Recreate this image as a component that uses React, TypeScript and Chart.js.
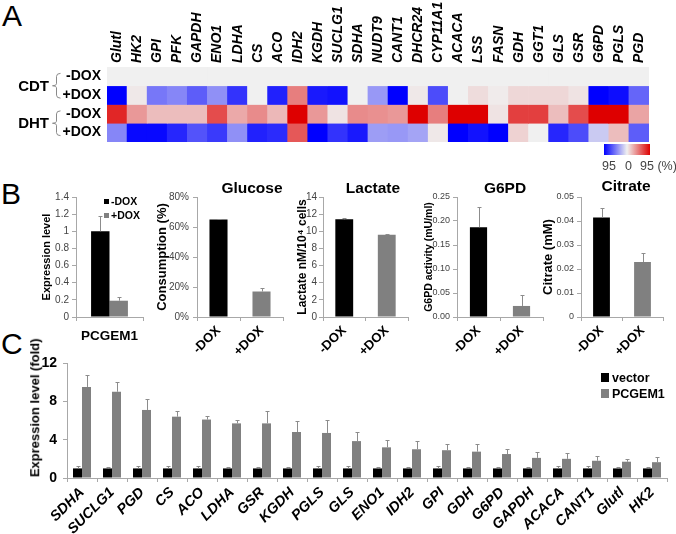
import React, { useEffect, useRef } from 'react';
import { Chart, registerables } from 'chart.js';

Chart.register(...registerables);

const FONT = '"Liberation Sans", Arial, Helvetica, sans-serif';
Chart.defaults.font.family = FONT;

// ---------------- Panel A data ----------------
const heatGenes = ['Glutl', 'HK2', 'GPI', 'PFK', 'GAPDH', 'ENO1', 'LDHA', 'CS', 'ACO', 'IDH2', 'KGDH', 'SUCLG1', 'SDHA', 'NUDT9', 'CANT1', 'DHCR24', 'CYP11A1', 'ACACA', 'LSS', 'FASN', 'GDH', 'GGT1', 'GLS', 'GSR', 'G6PD', 'PGLS', 'PGD'];
const heatRowLabels = ['-DOX', '+DOX', '-DOX', '+DOX'];
const heatGroups = ['CDT', 'DHT'];
const heatCdtMinusDox = [0, 0, 0, 0, 0, 0, 0, 0, 0, 0, 0, 0, 0, 0, 0, 0, 0, 0, 0, 0, 0, 0, 0, 0, 0, 0, 0];
const heatCdtPlusDox = [-95, 3, -48, -42, -58, -38, -75, 0, -82, 45, -85, -88, 0, -35, -95, 3, -65, 0, 8, 2, 10, 10, 10, 5, -95, -90, -55];
const heatDhtMinusDox = [80, 35, 20, 20, 20, 65, 28, 40, 22, 95, 35, 5, 40, 38, 35, 95, 45, 95, 95, 5, 70, 70, 20, 65, 95, 95, 30];
const heatDhtPlusDox = [-42, -92, -92, -80, -62, -72, -38, -82, -78, 60, -95, -75, -85, -33, -35, -30, 3, -95, -88, -95, 12, 0, -80, -65, -15, 20, -58];
const heatScaleLabels = ['95', '0', '95 (%)'];

// ---------------- Panel B data ----------------
const pcgemCategory = ['PCGEM1'];
const pcgemMinusDox = [1.0];
const pcgemMinusDoxErr = [0.18];
const pcgemPlusDox = [0.19];
const pcgemPlusDoxErr = [0.04];
const doxCategories = ['-DOX', '+DOX'];
const glucoseValues = [65, 17];
const glucoseErrors = [0.6, 2.3];
const lactateValues = [11.4, 9.6];
const lactateErrors = [0.12, 0.1];
const g6pdValues = [0.187, 0.023];
const g6pdErrors = [0.042, 0.022];
const citrateValues = [0.0415, 0.0229];
const citrateErrors = [0.0038, 0.0038];

// ---------------- Panel C data ----------------
const cGenes = ['SDHA', 'SUCLG1', 'PGD', 'CS', 'ACO', 'LDHA', 'GSR', 'KGDH', 'PGLS', 'GLS', 'ENO1', 'IDH2', 'GPI', 'GDH', 'G6PD', 'GAPDH', 'ACACA', 'CANT1', 'Glutl', 'HK2'];
const cVector = [1, 1, 1, 1, 1, 1, 1, 1, 1, 1, 1, 1, 1, 1, 1, 1, 1, 1, 1, 1];
const cVectorErr = [0.28, 0.18, 0.28, 0.25, 0.28, 0.18, 0.18, 0.18, 0.28, 0.28, 0.18, 0.18, 0.25, 0.18, 0.18, 0.18, 0.28, 0.28, 0.18, 0.12];
const cPcgem1 = [9.5, 9.0, 7.1, 6.4, 6.1, 5.7, 5.7, 4.8, 4.7, 3.85, 3.2, 3.0, 2.9, 2.75, 2.5, 2.1, 2.0, 1.8, 1.7, 1.65];
const cPcgem1Err = [1.25, 1.05, 1.15, 0.55, 0.4, 0.4, 1.25, 1.15, 1.4, 0.9, 0.8, 0.9, 0.6, 0.85, 0.5, 0.65, 0.6, 0.5, 0.3, 0.5];
const cSeries = ['vector', 'PCGEM1'];
const cYTitle = 'Expression level (fold)';

const AXIS = '#a8a8a8';
const BLACK = '#000000';
const GRAY = '#808080';
const ERR = '#8c8c8c';

function heatColor(v: number) {
  const z = [240, 240, 240];
  const t = Math.min(Math.abs(v) / 95, 1);
  const end = v < 0 ? [0, 0, 255] : [222, 0, 0];
  const c = z.map((zc, i) => Math.round(zc + (end[i] - zc) * t));
  return `rgb(${c.join(',')})`;
}

const errorBarPlugin = {
  id: 'errorBars',
  afterDatasetsDraw(chart: any) {
    const ctx = chart.ctx;
    chart.data.datasets.forEach((ds: any, i: number) => {
      if (!ds.errors) return;
      const meta = chart.getDatasetMeta(i);
      const yScale = chart.scales[meta.yAxisID];
      meta.data.forEach((bar: any, j: number) => {
        const e = ds.errors[j];
        if (e == null) return;
        const v = ds.data[j];
        const x = Math.round(bar.x) + 0.5;
        const y0 = yScale.getPixelForValue(v);
        const y1 = Math.round(yScale.getPixelForValue(v + e)) + 0.5;
        ctx.save();
        ctx.strokeStyle = ERR;
        ctx.lineWidth = 1;
        ctx.beginPath();
        ctx.moveTo(x, y0);
        ctx.lineTo(x, y1);
        ctx.moveTo(x - 2, y1);
        ctx.lineTo(x + 2, y1);
        ctx.stroke();
        ctx.restore();
      });
    });
  },
};

const bracePlugin = {
  id: 'groupBraces',
  afterDraw(chart: any) {
    const ctx = chart.ctx;
    const y = chart.scales.y;
    heatGroups.forEach((g, gi) => {
      const y0 = y.getPixelForValue(gi * 2 + 0.5) - 3;
      const y1 = y.getPixelForValue(gi * 2 + 1.5) + 3;
      const mid = (y0 + y1) / 2;
      const xr = 60.5, xm = 56.5, xt = 52.5;
      ctx.save();
      ctx.strokeStyle = '#8a8a8a';
      ctx.lineWidth = 1;
      ctx.beginPath();
      ctx.moveTo(xr, y0);
      ctx.quadraticCurveTo(xm, y0, xm, y0 + 3);
      ctx.lineTo(xm, mid - 2);
      ctx.quadraticCurveTo(xm, mid, xt, mid);
      ctx.quadraticCurveTo(xm, mid, xm, mid + 2);
      ctx.lineTo(xm, y1 - 3);
      ctx.quadraticCurveTo(xm, y1, xr, y1);
      ctx.stroke();
      ctx.fillStyle = '#000';
      ctx.font = `bold 15px ${FONT}`;
      ctx.textAlign = 'right';
      ctx.textBaseline = 'middle';
      ctx.fillText(g, 49, mid + 1);
      ctx.restore();
    });
  },
};

function ChartBox({ left, top, width, height, config }: any) {
  const ref = useRef<HTMLCanvasElement>(null);
  useEffect(() => {
    const chart = new Chart(ref.current as HTMLCanvasElement, config);
    return () => chart.destroy();
  }, []);
  return (
    <div style={{ position: 'absolute', left, top, width, height }}>
      <canvas ref={ref} width={width} height={height} style={{ width, height, display: 'block' }} />
    </div>
  );
}

function Txt({ x, y, size, bold, italic, color, align, rotate, children }: any) {
  const a = align || 'left';
  const style: any = {
    position: 'absolute',
    top: y - size * 0.6,
    fontSize: size,
    lineHeight: `${size * 1.2}px`,
    fontWeight: bold ? 'bold' : 'normal',
    fontStyle: italic ? 'italic' : 'normal',
    color: color || '#000',
    whiteSpace: 'nowrap',
    fontFamily: FONT,
  };
  if (a === 'center') {
    style.left = x - 150;
    style.width = 300;
    style.textAlign = 'center';
  } else {
    style.left = x;
  }
  if (rotate) {
    style.transform = `rotate(${rotate}deg)`;
    style.transformOrigin = '50% 50%';
  }
  return <div style={style}>{children}</div>;
}

function barConfig(p: any) {
  return {
    type: 'bar',
    data: { labels: p.labels, datasets: p.datasets },
    plugins: [errorBarPlugin],
    options: {
      responsive: false,
      maintainAspectRatio: false,
      animation: false,
      layout: { padding: p.pad, autoPadding: false },
      plugins: { legend: { display: false }, tooltip: { enabled: false } },
      scales: {
        x: {
          offset: true,
          grid: { display: true, drawOnChartArea: false, drawTicks: true, tickLength: 4, color: AXIS, offset: true },
          border: { display: true, color: AXIS, width: 1 },
          ticks: {
            autoSkip: false,
            minRotation: p.rot,
            maxRotation: p.rot,
            padding: p.xPad,
            font: p.xFont,
            color: '#000',
            labelOffset: p.xLabelOffset || 0,
          },
          afterFit: (s: any) => { s.height = p.xh; s.paddingLeft = 0; s.paddingRight = 0; },
        },
        y: {
          min: p.yMin,
          max: p.yMax,
          grid: { drawOnChartArea: false, drawTicks: true, tickLength: 4, color: AXIS },
          border: { display: true, color: AXIS, width: 1 },
          ticks: { autoSkip: false, stepSize: p.yStep, callback: p.fmt, font: p.yFont, color: p.tickColor, padding: p.yPad },
          title: { display: !!p.yTitle, text: p.yTitle || '', font: p.titleFont, color: '#000', padding: { top: p.titlePad || 0, bottom: 0 } },
          afterFit: (s: any) => { s.width = p.yw; s.paddingTop = 0; s.paddingBottom = 0; },
        },
      },
    },
  };
}

const num = (v: any) => String(+Number(v).toFixed(3));

const heatMatrix = [heatCdtMinusDox, heatCdtPlusDox, heatDhtMinusDox, heatDhtPlusDox];

const heatConfig = {
  type: 'bar',
  data: {
    labels: heatGenes,
    datasets: heatMatrix.map((row, r) => ({
      label: heatRowLabels[r],
      data: row.map(() => [r, r + 1]),
      backgroundColor: row.map(heatColor),
      borderWidth: 0,
      grouped: false,
      barPercentage: 1,
      categoryPercentage: 1,
    })),
  },
  plugins: [bracePlugin],
  options: {
    responsive: false,
    maintainAspectRatio: false,
    animation: false,
    layout: { padding: { left: 0, top: 0, right: 27, bottom: 3 }, autoPadding: false },
    plugins: { legend: { display: false }, tooltip: { enabled: false } },
    scales: {
      x: {
        position: 'top',
        grid: { display: false, drawTicks: false },
        border: { display: false },
        ticks: { autoSkip: false, minRotation: 90, maxRotation: 90, padding: 4, labelOffset: 17, color: '#000', font: { size: 14, weight: 'bold', style: 'italic' } },
        afterFit: (s: any) => { s.height = 67; s.paddingLeft = 0; s.paddingRight = 0; },
      },
      y: {
        min: 0,
        max: 4,
        reverse: true,
        grid: { display: false, drawTicks: false },
        border: { display: false },
        afterBuildTicks: (s: any) => { s.ticks = heatRowLabels.map((_, i) => ({ value: i + 0.5 })); },
        ticks: { autoSkip: false, padding: 6, color: '#000', font: { size: 14, weight: 'bold' }, callback: (_v: any, i: number) => heatRowLabels[i] },
        afterFit: (s: any) => { s.width = 107; s.paddingTop = 0; s.paddingBottom = 0; },
      },
    },
  },
};

const xDoxFont = { size: 13, weight: 'bold' };

const b1Config = barConfig({
  labels: pcgemCategory,
  datasets: [
    { label: '-DOX', data: pcgemMinusDox, errors: pcgemMinusDoxErr, backgroundColor: BLACK, categoryPercentage: 0.55, barPercentage: 1 },
    { label: '+DOX', data: pcgemPlusDox, errors: pcgemPlusDoxErr, backgroundColor: GRAY, categoryPercentage: 0.55, barPercentage: 1 },
  ],
  pad: { left: 0, top: 12, right: 3, bottom: 0 }, yw: 46, xh: 30, rot: 0, xPad: 7,
  xFont: { size: 13.5, weight: 'bold' },
  yMin: 0, yMax: 1.4, yStep: 0.2, fmt: num, yFont: { size: 10 }, tickColor: '#444', yPad: 3,
  yTitle: 'Expression level', titleFont: { size: 11, weight: 'bold' }, titlePad: 10.4,
});

const glucoseConfig = barConfig({
  labels: doxCategories,
  datasets: [{ label: 'Glucose', data: glucoseValues, errors: glucoseErrors, backgroundColor: [BLACK, GRAY], categoryPercentage: 0.42, barPercentage: 1 }],
  pad: { left: 0, top: 12, right: 3, bottom: 0 }, yw: 47, xh: 43, rot: 45, xPad: 2, xFont: xDoxFont,
  yMin: 0, yMax: 80, yStep: 20, fmt: (v: any) => `${num(v)}%`, yFont: { size: 10 }, tickColor: '#444', yPad: 4,
  yTitle: 'Consumption (%)', titleFont: { size: 13, weight: 'bold' }, titlePad: 4.2,
});

const lactateConfig = barConfig({
  labels: doxCategories,
  datasets: [{ label: 'Lactate', data: lactateValues, errors: lactateErrors, backgroundColor: [BLACK, GRAY], categoryPercentage: 0.42, barPercentage: 1 }],
  pad: { left: 0, top: 12, right: 3, bottom: 0 }, yw: 33, xh: 43, rot: 45, xPad: 2, xFont: xDoxFont,
  yMin: 0, yMax: 14, yStep: 2, fmt: num, yFont: { size: 10 }, tickColor: '#444', yPad: 2,
  yTitle: 'Lactate nM/10\u2074 cells', titleFont: { size: 12, weight: 'bold' }, titlePad: 5.8,
});

const g6pdConfig = barConfig({
  labels: doxCategories,
  datasets: [{ label: 'G6PD', data: g6pdValues, errors: g6pdErrors, backgroundColor: [BLACK, GRAY], categoryPercentage: 0.4, barPercentage: 1 }],
  pad: { left: 0, top: 12, right: 3, bottom: 0 }, yw: 42, xh: 43, rot: 45, xPad: 2, xFont: xDoxFont,
  yMin: 0, yMax: 0.25, yStep: 0.05, fmt: (v: any) => Number(v).toFixed(2), yFont: { size: 9 }, tickColor: '#444', yPad: 3,
  yTitle: 'G6PD activity (mU/ml)', titleFont: { size: 10.5, weight: 'bold' }, titlePad: 7.7,
});

const citrateConfig = barConfig({
  labels: doxCategories,
  datasets: [{ label: 'Citrate', data: citrateValues, errors: citrateErrors, backgroundColor: [BLACK, GRAY], categoryPercentage: 0.41, barPercentage: 1 }],
  pad: { left: 0, top: 12, right: 3, bottom: 0 }, yw: 46, xh: 43, rot: 45, xPad: 2, xFont: xDoxFont,
  yMin: 0, yMax: 0.05, yStep: 0.01, fmt: (v: any) => (Number(v) === 0 ? '0' : Number(v).toFixed(2)), yFont: { size: 9 }, tickColor: '#444', yPad: 3,
  yTitle: 'Citrate (mM)', titleFont: { size: 13, weight: 'bold' }, titlePad: 5.7,
});

const cConfig = barConfig({
  labels: cGenes,
  datasets: [
    { label: cSeries[0], data: cVector, errors: cVectorErr, backgroundColor: BLACK, categoryPercentage: 0.6, barPercentage: 1 },
    { label: cSeries[1], data: cPcgem1, errors: cPcgem1Err, backgroundColor: GRAY, categoryPercentage: 0.6, barPercentage: 1 },
  ],
  pad: { left: 0, top: 41, right: 9, bottom: 0 }, yw: 67, xh: 56, rot: 45, xPad: 2,
  xFont: { size: 14.5, weight: 'bold', style: 'italic' },
  yMin: 0, yMax: 12, yStep: 4, fmt: num, yFont: { size: 14, weight: 'bold' }, tickColor: '#000', yPad: 6,
  yTitle: '',
});

export default function App() {
  return (
    <div style={{ position: 'absolute', left: 0, top: 0, width: 676, height: 534, background: '#fff', overflow: 'hidden', fontFamily: FONT }}>
      {/* Panel letters */}
      <div style={{ position: 'absolute', left: 2, top: 1, fontSize: 30, lineHeight: '30px', fontFamily: FONT }}>A</div>
      <div style={{ position: 'absolute', left: 1, top: 179, fontSize: 30, lineHeight: '30px', fontFamily: FONT }}>B</div>
      <div style={{ position: 'absolute', left: 1, top: 329, fontSize: 30, lineHeight: '30px', fontFamily: FONT }}>C</div>

      {/* Panel A */}
      <ChartBox left={0} top={0} width={676} height={145} config={heatConfig} />
      <div style={{ position: 'absolute', left: 604, top: 144, width: 46, height: 11, background: 'linear-gradient(to right, #0000ff 0%, #f0f0f0 50%, #de0000 100%)' }} />
      <Txt x={602} y={166} size={12.5} color="#444">{heatScaleLabels[0]}</Txt>
      <Txt x={625} y={166} size={12.5} color="#444">{heatScaleLabels[1]}</Txt>
      <Txt x={640} y={166} size={12.5} color="#444">{heatScaleLabels[2]}</Txt>

      {/* Panel B */}
      <ChartBox left={30} top={185} width={116} height={162} config={b1Config} />
      <div style={{ position: 'absolute', left: 104, top: 199, width: 5, height: 5, background: BLACK }} />
      <Txt x={111} y={201} size={10.5} bold>-DOX</Txt>
      <div style={{ position: 'absolute', left: 104, top: 213, width: 5, height: 5, background: GRAY }} />
      <Txt x={111} y={215} size={10.5} bold>+DOX</Txt>

      <ChartBox left={150} top={185} width={136} height={175} config={glucoseConfig} />
      <ChartBox left={290} top={185} width={121} height={175} config={lactateConfig} />
      <ChartBox left={415} top={185} width={131} height={175} config={g6pdConfig} />
      <ChartBox left={535} top={185} width={131} height={175} config={citrateConfig} />
      <Txt x={252} y={188} size={15.5} bold align="center">Glucose</Txt>
      <Txt x={373} y={188} size={15.5} bold align="center">Lactate</Txt>
      <Txt x={505} y={188} size={15.5} bold align="center">G6PD</Txt>
      <Txt x={626} y={186} size={15.5} bold align="center">Citrate</Txt>

      {/* Panel C */}
      <ChartBox left={0} top={322} width={676} height={212} config={cConfig} />
      <Txt x={35} y={408} size={13} bold align="center" rotate={-90}>{cYTitle}</Txt>
      <div style={{ position: 'absolute', left: 601, top: 373, width: 8, height: 9, background: BLACK }} />
      <Txt x={612} y={378} size={12.5} bold>{cSeries[0]}</Txt>
      <div style={{ position: 'absolute', left: 601, top: 389, width: 8, height: 9, background: GRAY }} />
      <Txt x={612} y={394} size={12.5} bold>{cSeries[1]}</Txt>
    </div>
  );
}
